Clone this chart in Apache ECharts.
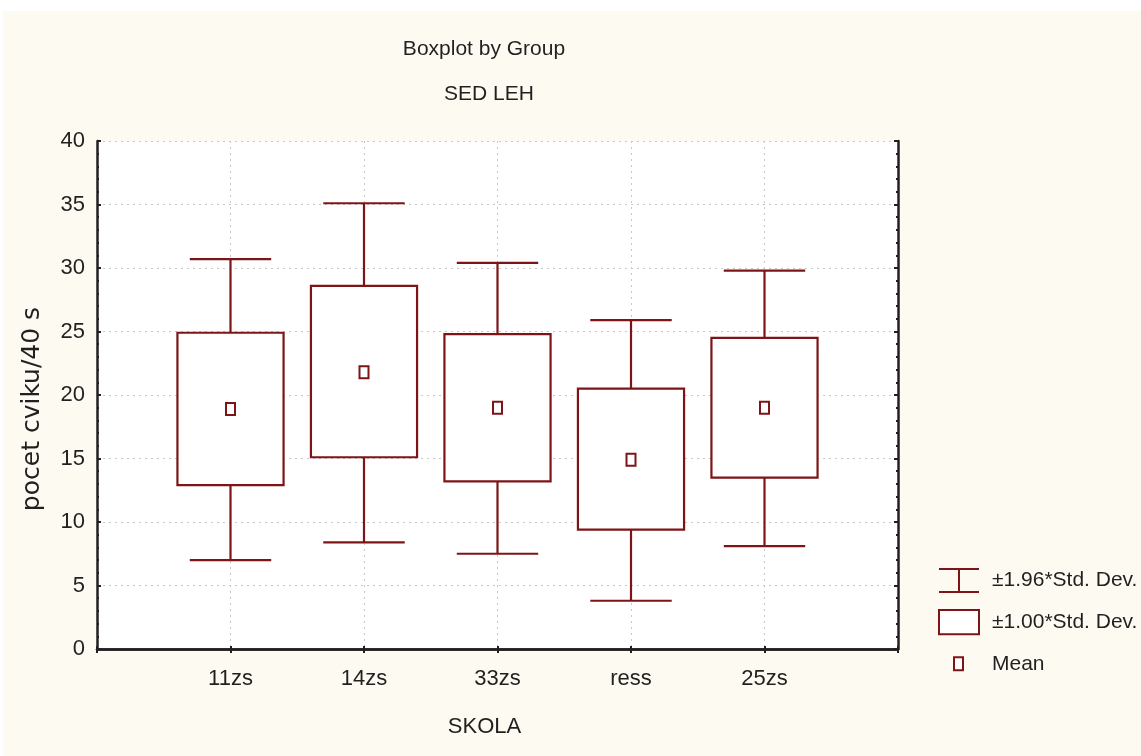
<!DOCTYPE html>
<html>
<head>
<meta charset="utf-8">
<script src="https://cdn.jsdelivr.net/npm/echarts@6/dist/echarts.min.js"></script>
<style>
html, body { margin: 0; padding: 0; background: #fff; }
#chart { width: 1141px; height: 756px; }
</style>
</head>
<body>
<div id="chart"></div>
<script>
// values
const categories = ['11zs', '14zs', '33zs', 'ress', '25zs'];
const means      = [18.9, 21.8, 19.0, 14.9, 19.0];
const sd1Low     = [12.9, 15.1, 13.2, 9.4, 13.5];
const sd1High    = [24.9, 28.6, 24.8, 20.5, 24.5];
const sd196Low   = [7.0, 8.4, 7.5, 3.8, 8.1];
const sd196High  = [30.7, 35.1, 30.4, 25.9, 29.8];
const yTicks     = [0, 5, 10, 15, 20, 25, 30, 35, 40];
const seriesNames = ['±1.96*Std. Dev.', '±1.00*Std. Dev.', 'Mean'];

const darkRed = '#7d1517';
const ink = '#231f20';
const sans = '"Liberation Sans", Arial, sans-serif';

// empty slots at both ends, like the original axis
const axisCats = [''].concat(categories, ['']);

const whiskerData = categories.map((c, i) => [i + 1, sd196Low[i], sd1Low[i], sd1High[i], sd196High[i]]);
const boxData = categories.map((c, i) => [i + 1, sd1Low[i], sd1High[i]]);
const meanData = categories.map((c, i) => [i + 1, means[i]]);

function line(a, b) {
    return {
        type: 'line',
        shape: { x1: a[0], y1: a[1], x2: b[0], y2: b[1] },
        style: { stroke: darkRed, lineWidth: 2.2 }
    };
}

function renderWhisker(params, api) {
    const x = api.value(0);
    const bot = api.coord([x, api.value(1)]);
    const q1 = api.coord([x, api.value(2)]);
    const q3 = api.coord([x, api.value(3)]);
    const top = api.coord([x, api.value(4)]);
    const half = api.size([1, 0])[0] * 0.305;
    return {
        type: 'group',
        children: [
            line(top, q3),
            line(q1, bot),
            line([top[0] - half, top[1]], [top[0] + half, top[1]]),
            line([bot[0] - half, bot[1]], [bot[0] + half, bot[1]])
        ]
    };
}

function renderBox(params, api) {
    const x = api.value(0);
    const lo = api.coord([x, api.value(1)]);
    const hi = api.coord([x, api.value(2)]);
    const w = api.size([1, 0])[0] * 0.795;
    return {
        type: 'rect',
        shape: { x: lo[0] - w / 2, y: hi[1], width: w, height: lo[1] - hi[1] },
        style: { fill: '#fff', stroke: darkRed, lineWidth: 2.2 }
    };
}

function renderMean(params, api) {
    const p = api.coord([api.value(0), api.value(1)]);
    return {
        type: 'rect',
        shape: { x: p[0] - 4.5, y: p[1] - 6, width: 9, height: 12 },
        style: { fill: '#fff', stroke: darkRed, lineWidth: 2 }
    };
}

const frameTick = { show: true, inside: true, length: 4, lineStyle: { color: ink, width: 2 } };
const frameLine = { show: true, lineStyle: { color: ink, width: 2.5 } };
const dotted = { show: true, lineStyle: { color: '#c8c8c8', width: 1, type: [2, 4] } };

const chart = echarts.init(document.getElementById('chart'));
chart.setOption({
    backgroundColor: '#fdfaf2',
    animation: false,
    title: [
        {
            text: 'Boxplot by Group', left: 479, top: 34, textAlign: 'center',
            textStyle: { fontFamily: sans, fontSize: 21, fontWeight: 'normal', color: ink }
        },
        {
            text: 'SED LEH', left: 484, top: 79, textAlign: 'center',
            textStyle: { fontFamily: sans, fontSize: 21, fontWeight: 'normal', color: ink }
        }
    ],
    graphic: [
        { type: 'rect', left: 0, top: 0, shape: { width: 1141, height: 11 }, style: { fill: '#fff' }, silent: true },
        { type: 'rect', left: 0, top: 0, shape: { width: 3, height: 756 }, style: { fill: '#fff' }, silent: true }
    ],
    grid: {
        left: 97, top: 141, right: 243, bottom: 107,
        show: true, backgroundColor: '#fff', borderWidth: 0
    },
    legend: {
        orient: 'vertical', left: 933, top: 562,
        itemWidth: 40, itemHeight: 25, itemGap: 15,
        selectedMode: false,
        itemStyle: { color: '#fff', borderColor: darkRed, borderWidth: 2 },
        textStyle: { fontFamily: sans, fontSize: 21, color: ink, padding: [0, 0, 0, 8] },
        data: [
            { name: seriesNames[0], icon: 'path://M0,0M40,25M0,1H40M20,1V24M0,24H40' },
            { name: seriesNames[1], icon: 'path://M1,1H39V24H1Z' },
            { name: seriesNames[2], icon: 'path://M0,0M40,25M15,6H24V19H15Z' }
        ]
    },
    xAxis: [
        {
            type: 'category', data: axisCats, boundaryGap: false, position: 'bottom',
            name: 'SKOLA', nameLocation: 'middle', nameGap: 67,
            nameTextStyle: { fontFamily: sans, fontSize: 22, color: ink, padding: [0, 26, 0, 0] },
            axisLine: frameLine,
            axisTick: { show: true, inside: true, length: 3, lineStyle: { color: ink, width: 2 } },
            axisLabel: { fontFamily: sans, fontSize: 22, color: ink, margin: 19 },
            splitLine: dotted
        },
        {
            type: 'category', data: axisCats, boundaryGap: false, position: 'top',
            axisLine: frameLine, axisTick: frameTick,
            axisLabel: { show: false }, splitLine: { show: false }
        }
    ],
    yAxis: [
        {
            type: 'value', min: 0, max: 40, interval: 5, position: 'left',
            name: 'pocet cviku/40 s', nameLocation: 'middle', nameGap: 52, nameRotate: 90,
            nameTextStyle: { fontFamily: '"DejaVu Sans", sans-serif', fontSize: 25, color: ink, padding: [0, 28, 0, 0] },
            axisLine: frameLine, axisTick: frameTick,
            minorTick: { show: true, splitNumber: 5, length: 2, lineStyle: { color: ink, width: 2 } },
            axisLabel: {
                fontFamily: sans, fontSize: 22, color: ink, margin: 12,
                formatter: v => yTicks.indexOf(v) >= 0 ? String(v) : ''
            },
            splitLine: dotted
        },
        {
            type: 'value', min: 0, max: 40, interval: 5, position: 'right',
            axisLine: frameLine, axisTick: frameTick,
            minorTick: { show: true, splitNumber: 5, length: 2, lineStyle: { color: ink, width: 2 } },
            axisLabel: { show: false }, splitLine: { show: false }
        }
    ],
    series: [
        {
            name: seriesNames[0], type: 'custom', renderItem: renderWhisker,
            encode: { x: 0, y: [1, 2, 3, 4] }, data: whiskerData,
            itemStyle: { color: '#fff', borderColor: darkRed }, z: 2
        },
        {
            name: seriesNames[1], type: 'custom', renderItem: renderBox,
            encode: { x: 0, y: [1, 2] }, data: boxData,
            itemStyle: { color: '#fff', borderColor: darkRed }, z: 3
        },
        {
            name: seriesNames[2], type: 'custom', renderItem: renderMean,
            encode: { x: 0, y: 1 }, data: meanData,
            itemStyle: { color: '#fff', borderColor: darkRed }, z: 4
        }
    ]
});
</script>
</body>
</html>
